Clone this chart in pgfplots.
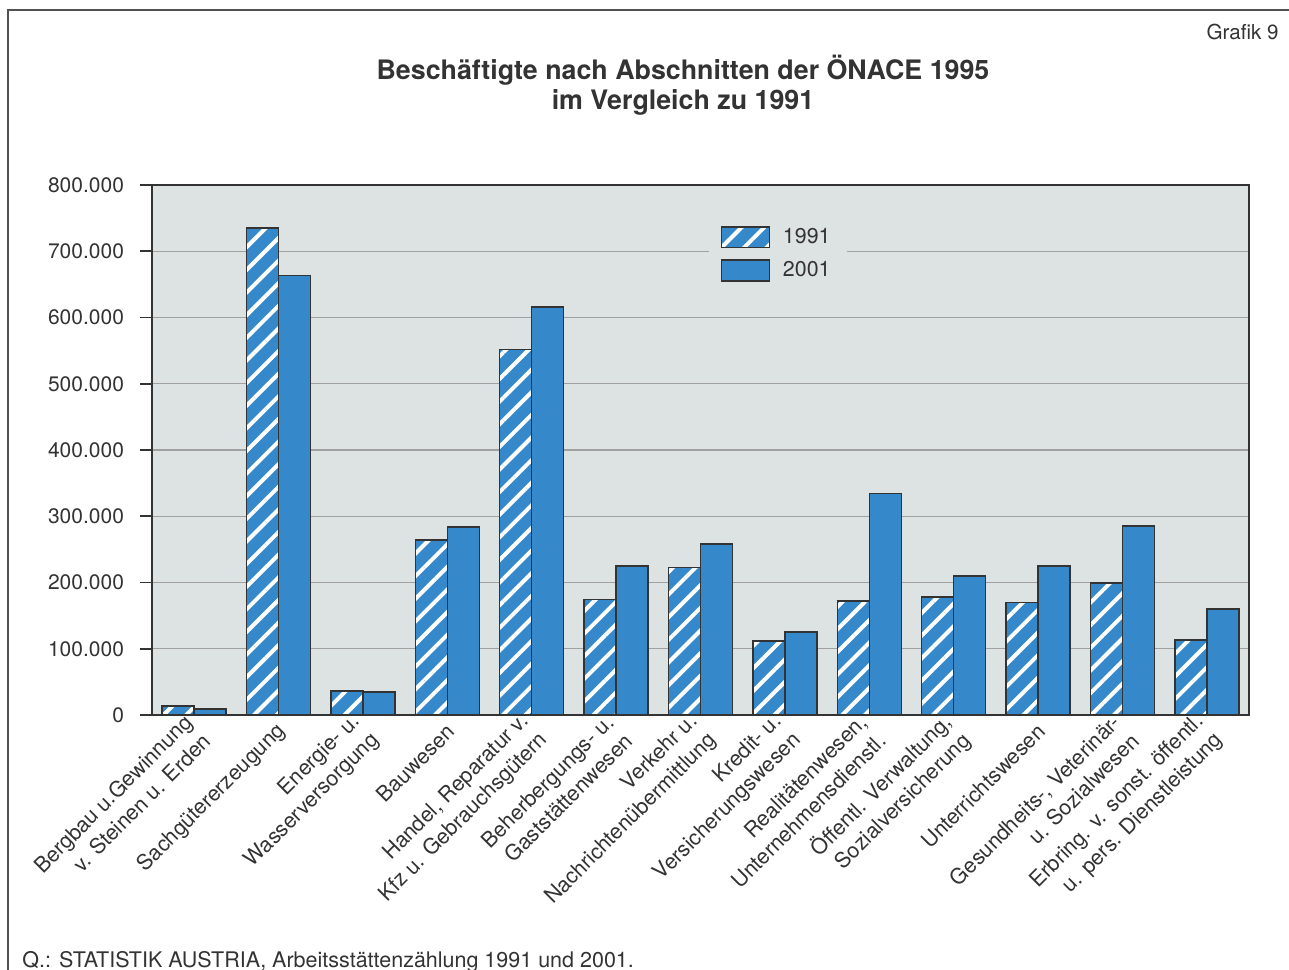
\documentclass[border=0pt]{standalone}
\usepackage{fontspec}
\setmainfont{TeX Gyre Heros}
\usepackage{pgfplots}
\pgfplotsset{compat=1.18}
\usetikzlibrary{patterns.meta}
\definecolor{barblue}{HTML}{3588C9}
\definecolor{plotbg}{HTML}{DDE2E2}
\definecolor{txt}{HTML}{333333}
\definecolor{gridc}{HTML}{A0A0A0}
\begin{document}
\begin{tikzpicture}
\useasboundingbox (0,0) rectangle (644.5pt,484.5pt);
\begin{scope}[x=0.5pt,y=-0.5pt,shift={(0pt,484.5pt)}]
\draw[color=txt!85, line width=0.8pt] (8,980) -- (8,10) -- (1300,10);
\node[anchor=base east, font=\fontsize{10.3}{12}\selectfont, text=txt, inner sep=0pt] at (1279,40) {Grafik 9};
\node[align=center, font=\bfseries\fontsize{13.4}{15}\selectfont, text=txt] at (683,85) {Beschäftigte nach Abschnitten der ÖNACE 1995\\im Vergleich zu 1991};
\node[anchor=base west, font=\fontsize{10.75}{12}\selectfont, text=txt, inner sep=0pt] at (22,967) {Q.: STATISTIK AUSTRIA, Arbeitsstättenzählung 1991 und 2001.};
\end{scope}
\begin{axis}[
  at={(76pt,127pt)}, anchor=south west, scale only axis,
  width=548.5pt, height=265pt,
  xmin=-0.5, xmax=12.5, ymin=0, ymax=800000,
  ytick={0,100000,200000,300000,400000,500000,600000,700000,800000},
  yticklabels={0,100.000,200.000,300.000,400.000,500.000,600.000,700.000,800.000},
  scaled y ticks=false,
  y tick label style={font=\fontsize{10.5}{12}\selectfont, text=txt, xshift=-4.5pt},
  xtick={0,...,12},
  xticklabels={
    {Bergbau u.Gewinnung\\v. Steinen u. Erden},
    {Sachgütererzeugung},
    {Energie- u.\\Wasserversorgung},
    {Bauwesen},
    {Handel, Reparatur v.\\Kfz u. Gebrauchsgütern},
    {Beherbergungs- u.\\Gaststättenwesen},
    {Verkehr u.\\Nachrichtenübermittlung},
    {Kredit- u.\\Versicherungswesen},
    {Realitätenwesen,\\Unternehmensdienstl.},
    {Öffentl. Verwaltung,\\Sozialversicherung},
    {Unterrichtswesen},
    {Gesundheits-, Veterinär-\\u. Sozialwesen},
    {Erbring. v. sonst. öffentl.\\u. pers. Dienstleistung}},
  x tick label style={rotate=45, anchor=east, align=right,
    font=\fontsize{10.7}{13.3}\selectfont, text=txt, inner sep=1pt,
    xshift=2pt, yshift=-1.5pt},
  xtick style={draw=none},
  ytick pos=left,
  tick align=outside,
  major tick length=6pt,
  ytick style={txt, line width=0.8pt},
  axis background/.style={fill=plotbg},
  ymajorgrids,
  grid style={gridc, line width=0.6pt},
  axis line style={txt, line width=0.9pt},
  ybar=0pt, bar width=16pt,
  legend style={at={(0.507,0.938)}, anchor=north west, draw=none, fill=plotbg,
    font=\fontsize{10.7}{12}\selectfont, text=txt, row sep=3.5pt,
    inner xsep=6pt, inner ysep=3pt},
  legend cell align=left,
  legend image code/.code={\draw[#1] (0pt,-5.2pt) rectangle (24pt,5.2pt); \path (28.5pt,0pt);},
]
\addplot[draw=txt, line width=0.7pt, fill=barblue,
  postaction={pattern={Lines[angle=45,distance=8pt,line width=2pt]}, pattern color=white}]
  coordinates {(0,13600) (1,735000) (2,36000) (3,264000) (4,552000) (5,174000) (6,223000) (7,112000) (8,172000) (9,178000) (10,170000) (11,199000) (12,113000)};
\addplot[draw=txt, line width=0.7pt, fill=barblue]
  coordinates {(0,9000) (1,663000) (2,34700) (3,284000) (4,616000) (5,225000) (6,258000) (7,125000) (8,334000) (9,210000) (10,225000) (11,285000) (12,160000)};
\legend{1991,2001}
\end{axis}
\end{tikzpicture}
\end{document}
